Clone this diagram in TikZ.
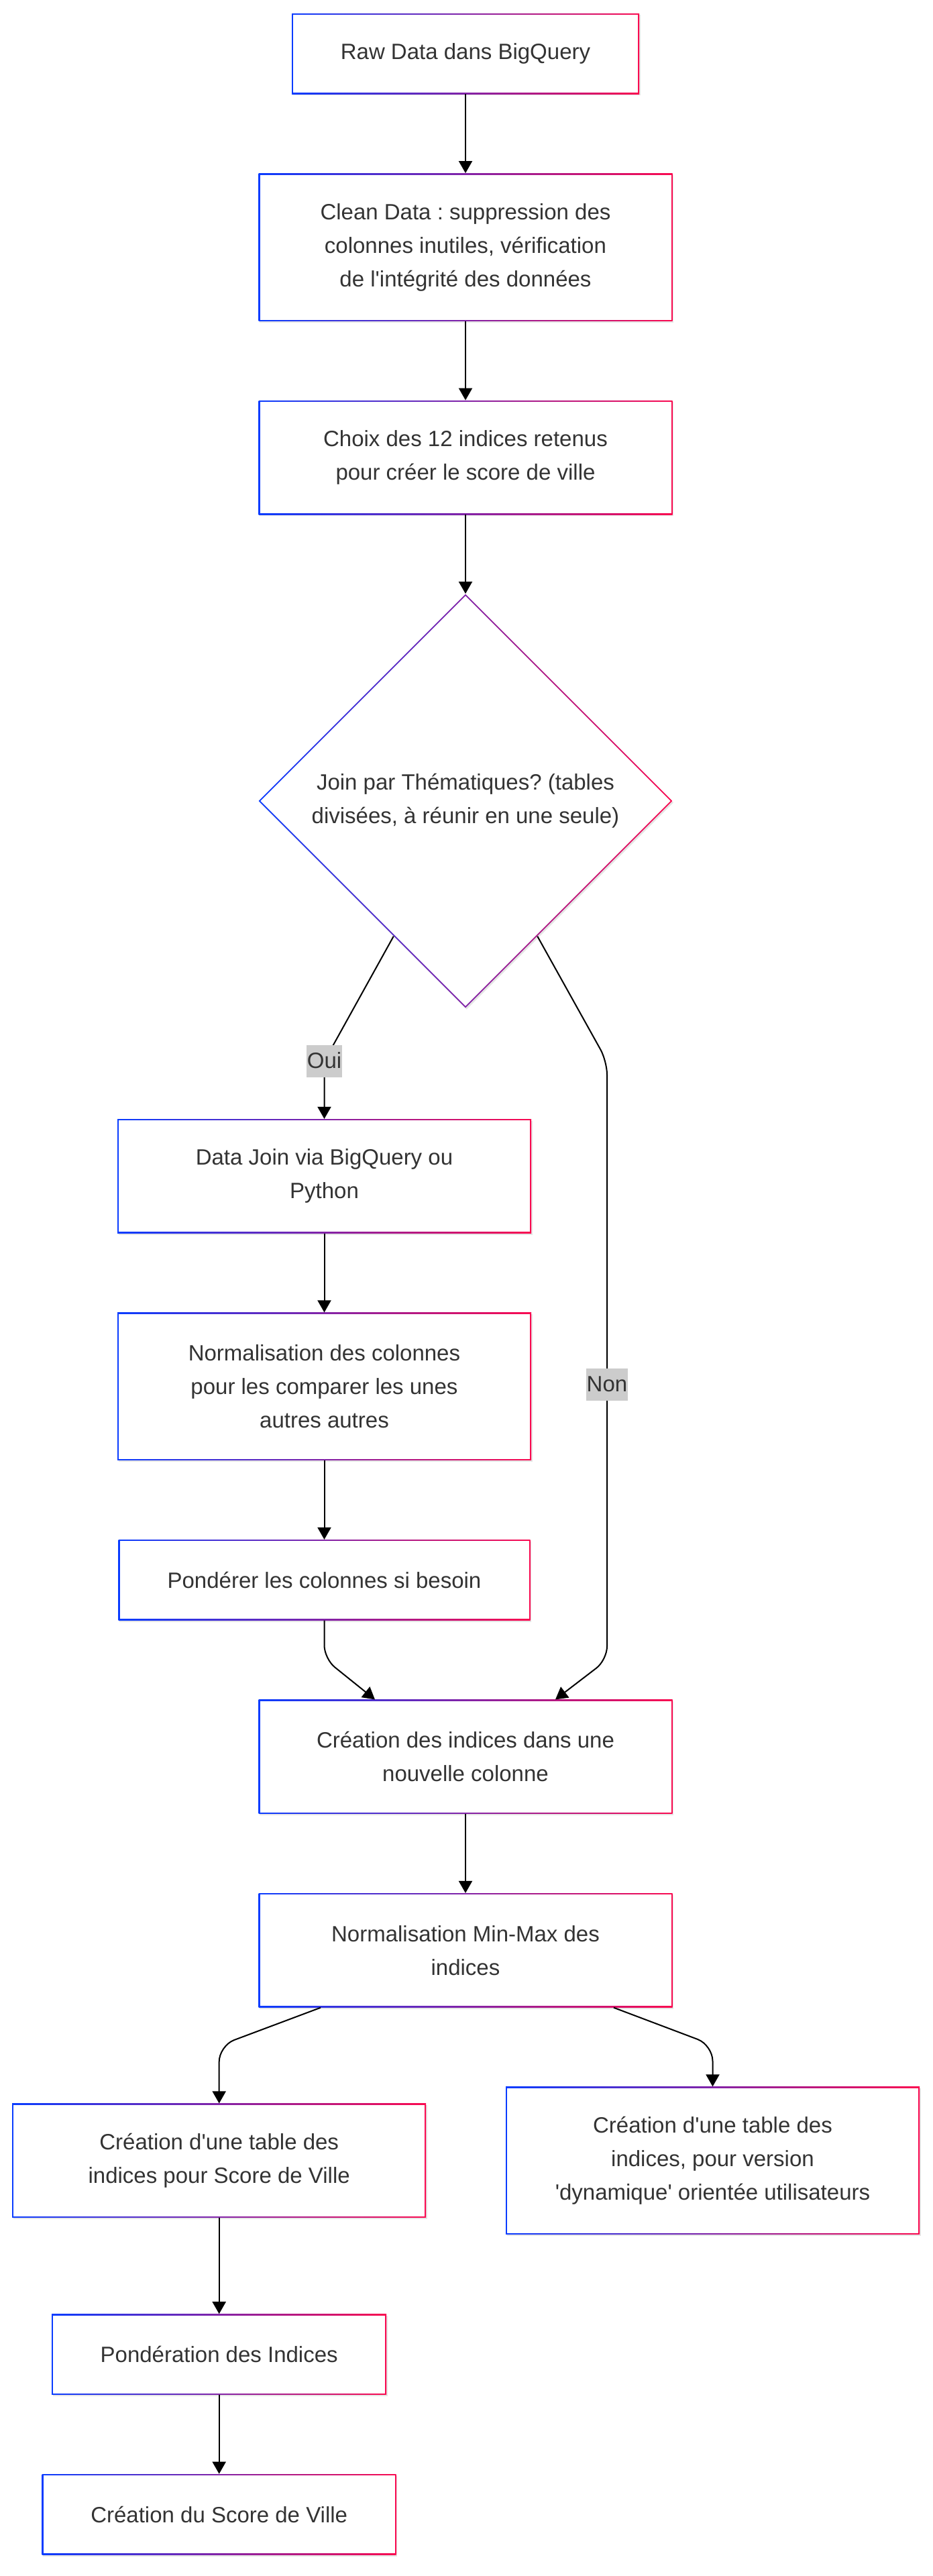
\documentclass[tikz,border=0pt]{standalone}
\usepackage{fontspec}
\setmainfont{Liberation Sans}
\usetikzlibrary{shapes.geometric}
\usetikzlibrary{arrows.meta}
\usetikzlibrary{positioning}
\usetikzlibrary{calc}
\usetikzlibrary{shadows}
\definecolor{gblue}{RGB}{10,60,255}
\definecolor{gred}{RGB}{250,10,80}
\definecolor{txtgrey}{RGB}{51,51,51}
\definecolor{lblgrey}{RGB}{204,204,204}
\newcommand{\flowfont}{\fontsize{16.5pt}{25pt}\selectfont}
\frenchspacing
\tikzset{gradrect/.style={path picture={
  \shade[left color=gblue, right color=gred] (path picture bounding box.south west) rectangle (path picture bounding box.north east);
  \fill[white] ([shift={(1pt,1pt)}]path picture bounding box.south west) rectangle ([shift={(-1pt,-1pt)}]path picture bounding box.north east);}}}
\tikzset{graddiamond/.style={path picture={
  \shade[left color=gblue, right color=gred] (path picture bounding box.south west) rectangle (path picture bounding box.north east);
  \fill[white] ([yshift=-1.4pt]path picture bounding box.north) -- ([xshift=-1.4pt]path picture bounding box.east) -- ([yshift=1.4pt]path picture bounding box.south) -- ([xshift=1.4pt]path picture bounding box.west) -- cycle;}}}
\tikzstyle{box} = [rectangle, gradrect, minimum width=308.5pt, minimum height=60pt, inner sep=0pt, text centered, align=center, text=txtgrey, drop shadow={shadow xshift=0.8pt, shadow yshift=-1.2pt, opacity=0.1, fill=black}]
\tikzstyle{choice} = [diamond, aspect=1, graddiamond, minimum width=308.5pt, minimum height=308.5pt, inner sep=0pt, align=center, text=txtgrey, drop shadow={shadow xshift=0.8pt, shadow yshift=-1.2pt, opacity=0.1, fill=black}]
\tikzstyle{lbl} = [rectangle, sharp corners, fill=lblgrey, text=txtgrey, inner xsep=0.3pt, inner ysep=0pt, text height=17.3pt, text depth=6.5pt]
\tikzstyle{arrow} = [line width=1pt, ->, >={Triangle[length=9pt,width=10pt]}]
\tikzstyle{every node}=[font=\flowfont]

\begin{document}
\begin{tikzpicture}[node distance = 58.85pt]
\useasboundingbox (0,0) rectangle (695.5pt,-1920pt);

\node (raw) [box, minimum width=259pt] at (347pt,-40pt) {Raw Data dans BigQuery};
\node (clean) [box, below=of raw, minimum height=110pt] {Clean Data : suppression des\\colonnes inutiles, vérification\\de l\textquotesingle intégrité des données};
\node (choix) [box, below=of clean, minimum height=85pt] {Choix des 12 indices retenus\\pour créer le score de ville};
\node (thematic) [choice, below=of choix] {Join par Thématiques? (tables\\divisées, à réunir en une seule)};
\node (joindata) [box, below=82.5pt of thematic, xshift=-105.25pt, minimum height=85pt] {Data Join via BigQuery ou\\Python};
\node (normcols) [box, below=of joindata, minimum height=110pt] {Normalisation des colonnes\\pour les comparer les unes\\autres autres};
\node (ponderer) [box, below=of normcols, minimum width=307pt] {Pondérer les colonnes si besoin};
\node (creation) [box, below=of ponderer, xshift=105.25pt, minimum height=85pt] {Création des indices dans une\\nouvelle colonne};
\node (minmax) [box, below=of creation, minimum height=85pt] {Normalisation Min-Max des\\indices};
\node (tableuser) [box, below=of minmax, xshift=184.25pt, minimum height=110pt] {Création d\textquotesingle une table des\\indices, pour version\\\textquotesingle dynamique\textquotesingle{} orientée utilisateurs};
\node (tablescore) [box, left=59pt of tableuser, minimum height=85pt] {Création d\textquotesingle une table des\\indices pour Score de Ville};
\node (pondind) [box, below=71.5pt of tablescore, minimum width=249.5pt] {Pondération des Indices};
\node (score) [box, below=of pondind, minimum width=264pt] {Création du Score de Ville};

\coordinate (nonA) at ($(joindata.north)+(210.75pt,43pt)$);
\coordinate (nonB) at ($(creation.north)+(105.5pt,29.5pt)$);

\draw [arrow](raw) -- (clean);
\draw [arrow](clean) -- (choix);
\draw [arrow](choix) -- (thematic);
\draw [arrow, rounded corners=10pt](thematic.-118) -- ($(joindata.north)+(0,43pt)$) node[lbl]{Oui} -- (joindata);
\draw [arrow, rounded corners=10pt](thematic.-62) -- (nonA) -- node[lbl, pos=0.54]{Non} (nonB) -- ([xshift=67pt]creation.north);
\draw [arrow](joindata) -- (normcols);
\draw [arrow](normcols) -- (ponderer);
\draw [arrow, rounded corners=10pt](ponderer) -- ($(ponderer.south)+(0,-28.5pt)$) -- ([xshift=-67.5pt]creation.north);
\draw [arrow](creation) -- (minmax);
\draw [arrow, rounded corners=12pt]([xshift=-108pt]minmax.south) -- ($(tablescore.north)+(0,43pt)$) -- (tablescore);
\draw [arrow, rounded corners=12pt]([xshift=110.5pt]minmax.south) -- ($(tableuser.north)+(0,31pt)$) -- (tableuser);
\draw [arrow](tablescore) -- (pondind);
\draw [arrow](pondind) -- (score);

\end{tikzpicture}
\end{document}
